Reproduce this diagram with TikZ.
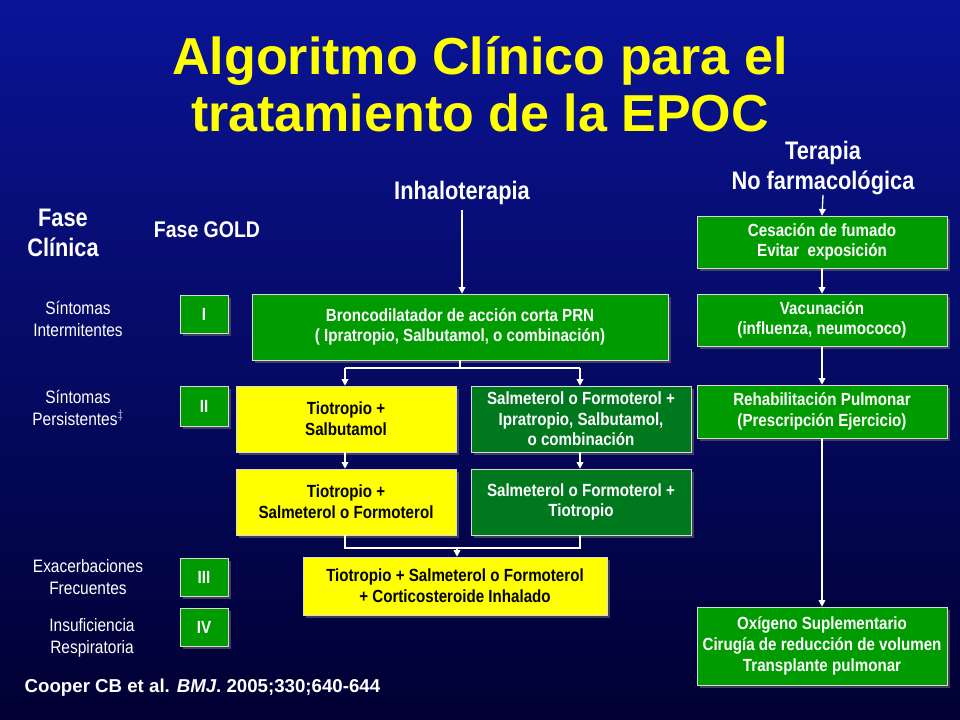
\documentclass[tikz,border=0pt]{standalone}
\usepackage{fontspec}
\setmainfont{Liberation Sans}[FakeStretch=0.86]
\newfontfamily\titlefont{Liberation Sans}
\usetikzlibrary{arrows.meta}
\definecolor{bgtop}{RGB}{10,20,150}
\definecolor{bgbot}{RGB}{0,0,50}
\definecolor{boxgreen}{RGB}{0,155,0}
\definecolor{boxdark}{RGB}{0,120,30}
\definecolor{boxyellow}{RGB}{255,255,0}
\definecolor{titleyellow}{RGB}{255,255,0}
\tikzset{
    box/.style={draw=white!70!gray, line width=0.4pt, align=center, inner sep=0pt,
        font=\bfseries\fontsize{13.2}{15.5}\selectfont},
    greenbox/.style={box, fill=boxgreen, text=white},
    darkbox/.style={box, fill=boxdark, text=white},
    yellowbox/.style={box, fill=boxyellow, text=black},
    label/.style={text=white, align=center, font=\fontsize{13.5}{17}\selectfont},
    head/.style={text=white, align=center, font=\bfseries\fontsize{19}{23}\selectfont},
    link/.style={draw=white, line width=1pt},
    flow/.style={link, -{Triangle[width=5pt,length=5pt]}}
}
\newcommand{\boxat}[6]{%
    \fill[black!60, opacity=0.6] (#1+3,#2+3) rectangle (#3+3,#4+3);
    \node[#5, minimum width={(#3-#1)*0.75pt}, minimum height={(#4-#2)*0.75pt}]
        (#6) at ({(#1+#3)/2},{(#2+#4)/2})}
\begin{document}
\begin{tikzpicture}[x=0.75pt, y=-0.75pt]
    \shade[top color=bgtop, bottom color=bgbot] (0,0) rectangle (960,720);
    \useasboundingbox (0,0) rectangle (960,720);

    % title
    \node[text=titleyellow, align=center, font=\titlefont\bfseries\fontsize{39}{43}\selectfont]
        (title) at (480,84) {Algoritmo Clínico para el\\tratamiento de la EPOC};

    % headings
    \node[head] (inhal) at (462,193) {Inhaloterapia};
    \node[head] (nofarm) at (823,168) {Terapia\\No farmacológica};
    \node[head] (fase) at (63,233) {Fase\\Clínica};
    \node[head, font=\bfseries\fontsize{17}{20}\selectfont] (gold) at (207,230) {Fase GOLD};

    % clinical phases
    \node[label] (intermit) at (78,319) {Síntomas\\Intermitentes};
    \node[label] (persist) at (78,408) {Síntomas\\Persistentes$^{\ddagger}$};
    \node[label] (exacerb) at (88,577) {Exacerbaciones\\Frecuentes};
    \node[label] (insuf) at (92,638) {Insuficiencia\\Respiratoria};

    % GOLD stages
    \boxat{180}{295}{228}{333}{greenbox}{gI} {I};
    \boxat{180}{386}{228}{426}{greenbox}{gII} {II};
    \boxat{180}{558}{228}{596}{greenbox}{gIII} {III};
    \boxat{180}{608}{228}{646}{greenbox}{gIV} {IV};

    % inhalotherapy
    \boxat{252}{294}{668}{360}{greenbox}{bronco}
        {Broncodilatador de acción corta PRN\\( Ipratropio, Salbutamol, o combinación)};
    \boxat{236}{386}{456}{452}{yellowbox}{tiosal} {Tiotropio +\\Salbutamol};
    \boxat{471}{386}{691}{452}{darkbox}{salipra}
        {Salmeterol o Formoterol +\\Ipratropio, Salbutamol,\\o combinación};
    \boxat{236}{469}{456}{535}{yellowbox}{tiosalm} {Tiotropio +\\Salmeterol o Formoterol};
    \boxat{471}{469}{691}{535}{darkbox}{salmtio} {Salmeterol o Formoterol +\\Tiotropio};
    \boxat{303}{557}{607}{615}{yellowbox}{cortico}
        {Tiotropio + Salmeterol o Formoterol\\+ Corticosteroide Inhalado};

    % non pharmacological
    \boxat{697}{216}{947}{268}{greenbox}{fumado} {Cesación de fumado\\Evitar\ \ exposición};
    \boxat{697}{294}{947}{346}{greenbox}{vacuna} {Vacunación\\(influenza, neumococo)};
    \boxat{697}{385}{947}{438}{greenbox}{rehab} {Rehabilitación Pulmonar\\(Prescripción Ejercicio)};
    \boxat{697}{607}{947}{685}{greenbox}{oxigeno}
        {Oxígeno Suplementario\\Cirugía de reducción de volumen\\Transplante pulmonar};

    % connectors
    \coordinate (nofarmend) at (823,195);
    \draw[flow] (inhal.south) -- (bronco.north -| inhal.south);
    \draw[flow] (nofarmend) -- (fumado.north);
    \draw[flow] (fumado) -- (vacuna);
    \draw[flow] (vacuna) -- (rehab);
    \draw[flow] (rehab) -- (oxigeno);

    \coordinate (split) at (460,368);
    \draw[link] (bronco.south -| split) -- (split);
    \draw[link] (345,368) -- (580,368);
    \draw[flow] (345,368) -- (tiosal.north -| 345,0);
    \draw[flow] (580,368) -- (salipra.north -| 580,0);
    \draw[flow] (tiosal.south -| 345,0) -- (tiosalm.north -| 345,0);
    \draw[flow] (salipra.south -| 580,0) -- (salmtio.north -| 580,0);

    \coordinate (join) at (457,548);
    \draw[link] (tiosalm.south -| 345,0) |- (join);
    \draw[link] (salmtio.south -| 580,0) |- (join);
    \draw[flow] (join) -- (cortico.north -| join);

    % reference
    \node[anchor=west, text=white, font=\titlefont\bfseries\fontsize{14}{16}\selectfont]
        (cite) at (20,688) {Cooper CB et al. \textit{BMJ}. 2005;330;640-644};
\end{tikzpicture}
\end{document}
